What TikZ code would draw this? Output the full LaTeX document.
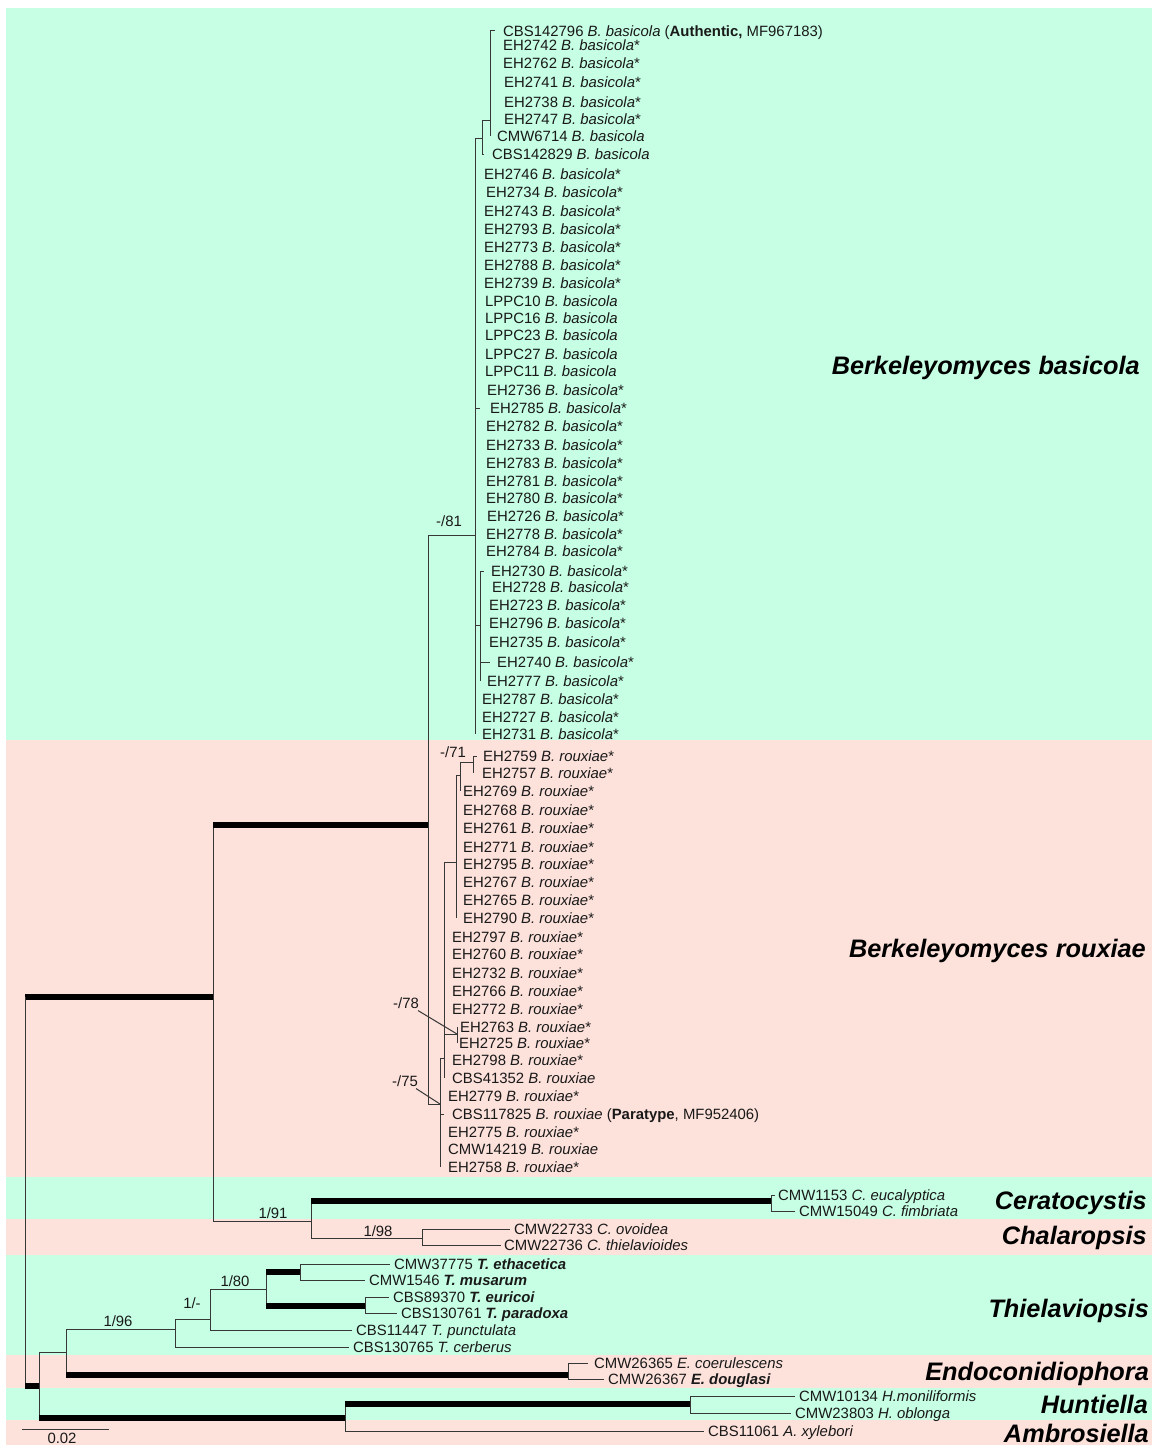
\documentclass[tikz,border=0pt]{standalone}
\usepackage{fontspec}
\setmainfont{Liberation Sans}
\definecolor{gbg}{RGB}{198,255,228}
\definecolor{pbg}{RGB}{253,225,219}
\definecolor{ln}{RGB}{55,55,55}
\definecolor{tx}{RGB}{25,25,25}
\newcommand\leafsize{\fontsize{14.9}{16}\selectfont}
\newcommand\grpsize{\fontsize{25.3}{28}\selectfont\bfseries\itshape}
\newcommand\bbas{\textit{B. basicola}}
\newcommand\brou{\textit{B. rouxiae}}
\begin{document}
\begin{tikzpicture}[x=1pt,y=-1pt,
  br/.style={draw=ln,line width=1pt},
  thk/.style={draw=black,line width=5.5pt},
  leaf/.style={anchor=west,inner ysep=0pt,inner xsep=#1,font=\leafsize,text=tx,text height=10.7pt,text depth=0pt},
  leaf/.default=8pt,
  sup/.style={inner sep=0pt,font=\leafsize,text=tx,text height=10.7pt,text depth=0pt},
  grp/.style={anchor=east,inner sep=0pt,font=\grpsize,text=black,text height=18pt,text depth=0pt}]
\useasboundingbox (0,0) rectangle (1152,1445);
% background bands
\fill[white] (0,0) rectangle (1152,1445);
\fill[gbg] (6,8) rectangle (1152,740);
\fill[pbg] (6,740) rectangle (1152,1177);
\fill[gbg] (6,1177) rectangle (1152,1219);
\fill[pbg] (6,1219) rectangle (1152,1255);
\fill[gbg] (6,1255) rectangle (1152,1355);
\fill[pbg] (6,1355) rectangle (1152,1388);
\fill[gbg] (6,1388) rectangle (1152,1420);
\fill[pbg] (6,1420) rectangle (1152,1445);

% internal nodes
\coordinate (r) at (25,997);
\coordinate (A) at (213,997);
\coordinate (Bk) at (428,825);
\coordinate (Bb) at (475,535);
\coordinate (Bb1) at (482,138);
\coordinate (Bb3) at (490,120);
\coordinate (Bb2) at (480,625);
\coordinate (Br) at (440,1104);
\coordinate (Br2) at (444,1058);
\coordinate (R3) at (456,862);
\coordinate (R5) at (460,775);
\coordinate (R6) at (473,762);
\coordinate (R4) at (457,1034);
\coordinate (Cc) at (311,1221);
\coordinate (Cer) at (771,1201);
\coordinate (Chal) at (422,1238);
\coordinate (D) at (39,1386);
\coordinate (E) at (66,1352);
\coordinate (T) at (175,1329);
\coordinate (T2) at (210,1319);
\coordinate (T3) at (266,1289);
\coordinate (T4) at (300,1272);
\coordinate (T5) at (365,1306);
\coordinate (En) at (568,1375);
\coordinate (H) at (345,1418);
\coordinate (Hu) at (690,1404);

% B. basicola leaves
\node[leaf=8pt] (b1) at (495,31) {CBS142796 \bbas{} (\textbf{Authentic,} MF967183)};
\node[leaf=13pt] (b2) at (490,45) {EH2742 \bbas*};
\node[leaf=13pt] (b3) at (490,63) {EH2762 \bbas*};
\node[leaf=14pt] (b4) at (490,82) {EH2741 \bbas*};
\node[leaf=14pt] (b5) at (490,102) {EH2738 \bbas*};
\node[leaf=14pt] (b6) at (490,119) {EH2747 \bbas*};
\node[leaf=7pt] (b7) at (490,136) {CMW6714 \bbas};
\node[leaf=8pt] (b8) at (484,154) {CBS142829 \bbas};
\node[leaf=9pt] (b9) at (475,174) {EH2746 \bbas*};
\node[leaf=11pt] (b10) at (475,192) {EH2734 \bbas*};
\node[leaf=9pt] (b11) at (475,211) {EH2743 \bbas*};
\node[leaf=9pt] (b12) at (475,229) {EH2793 \bbas*};
\node[leaf=9pt] (b13) at (475,247) {EH2773 \bbas*};
\node[leaf=9pt] (b14) at (475,265) {EH2788 \bbas*};
\node[leaf=9pt] (b15) at (475,283) {EH2739 \bbas*};
\node[leaf=10pt] (b16) at (475,301) {LPPC10 \bbas};
\node[leaf=10pt] (b17) at (475,318) {LPPC16 \bbas};
\node[leaf=10pt] (b18) at (475,335) {LPPC23 \bbas};
\node[leaf=10pt] (b19) at (475,354) {LPPC27 \bbas};
\node[leaf=10pt] (b20) at (475,371) {LPPC11 \bbas};
\node[leaf=12pt] (b21) at (475,390) {EH2736 \bbas*};
\node[leaf=10pt] (b22) at (480,408) {EH2785 \bbas*};
\node[leaf=11pt] (b23) at (475,426) {EH2782 \bbas*};
\node[leaf=11pt] (b24) at (475,445) {EH2733 \bbas*};
\node[leaf=11pt] (b25) at (475,463) {EH2783 \bbas*};
\node[leaf=11pt] (b26) at (475,481) {EH2781 \bbas*};
\node[leaf=11pt] (b27) at (475,498) {EH2780 \bbas*};
\node[leaf=12pt] (b28) at (475,516) {EH2726 \bbas*};
\node[leaf=11pt] (b29) at (475,534) {EH2778 \bbas*};
\node[leaf=11pt] (b30) at (475,551) {EH2784 \bbas*};
\node[leaf=7pt] (b31) at (484,571) {EH2730 \bbas*};
\node[leaf=12pt] (b32) at (480,587) {EH2728 \bbas*};
\node[leaf=9pt] (b33) at (480,605) {EH2723 \bbas*};
\node[leaf=9pt] (b34) at (480,623) {EH2796 \bbas*};
\node[leaf=9pt] (b35) at (480,642) {EH2735 \bbas*};
\node[leaf=7pt] (b36) at (490,662) {EH2740 \bbas*};
\node[leaf=7pt] (b37) at (480,681) {EH2777 \bbas*};
\node[leaf=7pt] (b38) at (475,699) {EH2787 \bbas*};
\node[leaf=7pt] (b39) at (475,717) {EH2727 \bbas*};
\node[leaf=7pt] (b40) at (475,734) {EH2731 \bbas*};

% B. rouxiae leaves
\node[leaf=6pt] (r1) at (477,756) {EH2759 \brou*};
\node[leaf=9pt] (r2) at (473,773) {EH2757 \brou*};
\node[leaf=3pt] (r3) at (460,791) {EH2769 \brou*};
\node[leaf=7pt] (r4) at (456,810) {EH2768 \brou*};
\node[leaf=7pt] (r5) at (456,828) {EH2761 \brou*};
\node[leaf=7pt] (r6) at (456,847) {EH2771 \brou*};
\node[leaf=7pt] (r7) at (456,864) {EH2795 \brou*};
\node[leaf=7pt] (r8) at (456,882) {EH2767 \brou*};
\node[leaf=7pt] (r9) at (456,900) {EH2765 \brou*};
\node[leaf=7pt] (r10) at (456,918) {EH2790 \brou*};
\node[leaf=8pt] (r11) at (444,937) {EH2797 \brou*};
\node[leaf=8pt] (r12) at (444,954) {EH2760 \brou*};
\node[leaf=8pt] (r13) at (444,973) {EH2732 \brou*};
\node[leaf=8pt] (r14) at (444,991) {EH2766 \brou*};
\node[leaf=8pt] (r15) at (444,1009) {EH2772 \brou*};
\node[leaf=3pt] (r16) at (457,1027) {EH2763 \brou*};
\node[leaf=2pt] (r17) at (457,1043) {EH2725 \brou*};
\node[leaf=8pt] (r18) at (444,1060) {EH2798 \brou*};
\node[leaf=8pt] (r19) at (444,1078) {CBS41352 \brou};
\node[leaf=8pt] (r20) at (440,1096) {EH2779 \brou*};
\node[leaf=8pt] (r21) at (444,1114) {CBS117825 \brou{} (\textbf{Paratype}, MF952406)};
\node[leaf=8pt] (r22) at (440,1132) {EH2775 \brou*};
\node[leaf=8pt] (r23) at (440,1149) {CMW14219 \brou};
\node[leaf=8pt] (r24) at (440,1167) {EH2758 \brou*};

% other leaves
\node[leaf=3pt] (c1) at (775,1195) {CMW1153 \textit{C. eucalyptica}};
\node[leaf=4pt] (c2) at (795,1211) {CMW15049 \textit{C. fimbriata}};
\node[leaf=4pt] (h1) at (510,1229) {CMW22733 \textit{C. ovoidea}};
\node[leaf=3pt] (h2) at (501,1245) {CMW22736 \textit{C. thielavioides}};
\node[leaf=4pt] (t1) at (390,1264) {CMW37775 \textbf{\textit{T. ethacetica}}};
\node[leaf=4pt] (t2) at (365,1280) {CMW1546 \textbf{\textit{T. musarum}}};
\node[leaf=4pt] (t3) at (389,1297) {CBS89370 \textbf{\textit{T. euricoi}}};
\node[leaf=4pt] (t4) at (397,1313) {CBS130761 \textbf{\textit{T. paradoxa}}};
\node[leaf=4pt] (t5) at (352,1330) {CBS11447 \textit{T. punctulata}};
\node[leaf=4pt] (t6) at (349,1347) {CBS130765 \textit{T. cerberus}};
\node[leaf=6pt] (e1) at (588,1363) {CMW26365 \textit{E. coerulescens}};
\node[leaf=4pt] (e2) at (604,1379) {CMW26367 \textbf{\textit{E. douglasi}}};
\node[leaf=4pt] (u1) at (795,1396) {CMW10134 \textit{H.moniliformis}};
\node[leaf=4pt] (u2) at (791,1413) {CMW23803 \textit{H. oblonga}};
\node[leaf=4pt] (a1) at (704,1431) {CBS11061 \textit{A. xylebori}};

% branches: B. basicola
\foreach \i in {1,...,7} \draw[br] (Bb3) |- (b\i.west);
\draw[br] (Bb1) |- (Bb3);
\draw[br] (Bb1) |- (b8.west);
\draw[br] (Bb) |- (Bb1);
\foreach \i in {9,...,30} \draw[br] (Bb) |- (b\i.west);
\draw[br] (Bb) |- (Bb2);
\foreach \i in {31,...,37} \draw[br] (Bb2) |- (b\i.west);
\foreach \i in {38,...,40} \draw[br] (Bb) |- (b\i.west);
% branches: B. rouxiae
\foreach \i in {1,2} \draw[br] (R6) |- (r\i.west);
\draw[br] (R5) |- (R6);
\draw[br] (R5) |- (r3.west);
\draw[br] (R3) |- (R5);
\foreach \i in {4,...,10} \draw[br] (R3) |- (r\i.west);
\draw[br] (Br2) |- (R3);
\foreach \i in {11,...,15} \draw[br] (Br2) |- (r\i.west);
\foreach \i in {16,17} \draw[br] (R4) |- (r\i.west);
\draw[br] (Br2) |- (R4);
\foreach \i in {18,19} \draw[br] (Br2) |- (r\i.west);
\draw[br] (Br) |- (Br2);
\foreach \i in {20,...,24} \draw[br] (Br) |- (r\i.west);
\draw[br] (Bk) |- (Bb);
\draw[br] (Bk) |- (Br);
% backbone
\draw[br] (A) -- (A |- Bk);
\draw[thk] (A |- Bk) -- (Bk);
\draw[br] (A) |- (Cc);
\draw[thk] (r) -- (A);
\draw[br] (r) -- (r |- D);
\draw[thk] (r |- D) -- (D);
% Ceratocystis / Chalaropsis
\draw[br] (Cc) -- (Cc |- Cer);
\draw[thk] (Cc |- Cer) -- (Cer);
\draw[br] (Cc) |- (Chal);
\foreach \c in {c1,c2} \draw[br] (Cer) |- (\c.west);
\foreach \c in {h1,h2} \draw[br] (Chal) |- (\c.west);
% lower clades
\draw[br] (D) |- (E);
\draw[br] (D) -- (D |- H);
\draw[thk] (D |- H) -- (H);
\draw[br] (E) |- (T);
\draw[br] (E) -- (E |- En);
\draw[thk] (E |- En) -- (En);
\draw[br] (T) |- (T2);
\draw[br] (T) |- (t6.west);
\draw[br] (T2) |- (T3);
\draw[br] (T2) |- (t5.west);
\draw[br] (T3) -- (T3 |- T4);
\draw[thk] (T3 |- T4) -- (T4);
\draw[br] (T3) -- (T3 |- T5);
\draw[thk] (T3 |- T5) -- (T5);
\foreach \c in {t1,t2} \draw[br] (T4) |- (\c.west);
\foreach \c in {t3,t4} \draw[br] (T5) |- (\c.west);
\foreach \c in {e1,e2} \draw[br] (En) |- (\c.west);
\draw[br] (H) -- (H |- Hu);
\draw[thk] (H |- Hu) -- (Hu);
\draw[br] (H) |- (a1.west);
\foreach \c in {u1,u2} \draw[br] (Hu) |- (\c.west);

% support values
\node[sup] (l81) at (449,521) {-/81};
\node[sup] (l71) at (453,752) {-/71};
\node[sup] (l78) at (406,1003) {-/78};
\node[sup] (l75) at (405,1081) {-/75};
\node[sup] (l91) at (273,1213) {1/91};
\node[sup] (l98) at (378,1231) {1/98};
\node[sup] (l96) at (118,1321) {1/96};
\node[sup] (l1m) at (192,1303) {1/-};
\node[sup] (l80) at (235,1281) {1/80};
\draw[br] ([xshift=-1pt,yshift=-2pt]l78.south east) -- (R4);
\draw[br] ([xshift=-2pt,yshift=-2pt]l75.south east) -- (Br);

% group labels
\node[grp] (g1) at (1140,365) {Berkeleyomyces basicola};
\node[grp] (g2) at (1146,948) {Berkeleyomyces rouxiae};
\node[grp] (g3) at (1147,1200) {Ceratocystis};
\node[grp] (g4) at (1147,1235) {Chalaropsis};
\node[grp] (g5) at (1149,1308) {Thielaviopsis};
\node[grp] (g6) at (1149,1371) {Endoconidiophora};
\node[grp] (g7) at (1148,1404) {Huntiella};
\node[grp] (g8) at (1149,1433) {Ambrosiella};

% scale bar
\coordinate (s1) at (22,1429);
\coordinate (s2) at (109,1429);
\draw[br] (s1) -- (s2);
\node[sup] (sl) at (62,1438.5) {0.02};
\end{tikzpicture}
\end{document}
